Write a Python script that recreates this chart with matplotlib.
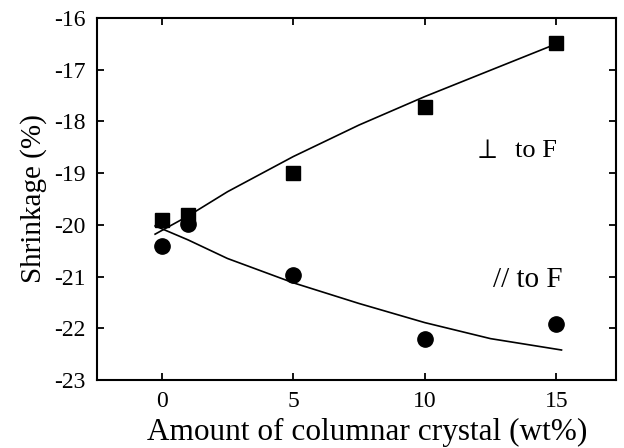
import numpy as np
import matplotlib
matplotlib.use('Agg')
import matplotlib.pyplot as plt

plt.rcParams['font.family'] = ['Liberation Serif', 'DejaVu Serif']
plt.rcParams['axes.unicode_minus'] = False
plt.rcParams['mathtext.fontset'] = 'stix'

# measured points
amount = [0, 1, 5, 10, 15]
perp_shrink = [-19.90, -19.80, -19.00, -17.73, -16.48]
para_shrink = [-20.40, -19.99, -20.97, -22.21, -21.92]

# fitted curves
perp_fit_x = [-0.25, 1, 2.5, 5, 7.5, 10, 12.5, 15.2]
perp_fit_y = [-20.18, -19.83, -19.36, -18.68, -18.07, -17.52, -17.01, -16.46]
para_fit_x = [-0.25, 1, 2.5, 5, 7.5, 10, 12.5, 15.2]
para_fit_y = [-20.02, -20.29, -20.65, -21.12, -21.52, -21.89, -22.20, -22.42]

xticks = [0, 5, 10, 15]
yticks = [-23, -22, -21, -20, -19, -18, -17, -16]

fig = plt.figure(figsize=(6.24, 4.48), dpi=100)
ax = fig.add_axes([0.1554, 0.1518, 0.8317, 0.808])

ax.plot(perp_fit_x, perp_fit_y, color='black', linewidth=1.2)
ax.plot(para_fit_x, para_fit_y, color='black', linewidth=1.2)
ax.plot(amount, perp_shrink, 's', color='black', markersize=10)
ax.plot(amount, para_shrink, 'o', color='black', markersize=11)

ax.text(11.85, -18.58, r'$\perp$', fontsize=20, va='center')
ax.text(13.43, -18.58, 'to F', fontsize=19, va='center')
ax.text(12.6, -21.07, '// to F', fontsize=21, va='center')

ax.set_xlim(-2.46, 17.27)
ax.set_ylim(-23, -16)
ax.set_xticks(xticks)
ax.set_yticks(yticks)
ax.tick_params(direction='in', length=5, width=1.3, labelsize=17,
               top=True, right=True, pad=8)
for s in ax.spines.values():
    s.set_linewidth(1.5)

ax.set_xlabel('Amount of columnar crystal (wt%)', fontsize=22.5, labelpad=4, x=0.521)
ax.set_ylabel('Shrinkage (%)', fontsize=21, labelpad=5)

fig.savefig('out.png', dpi=100)
